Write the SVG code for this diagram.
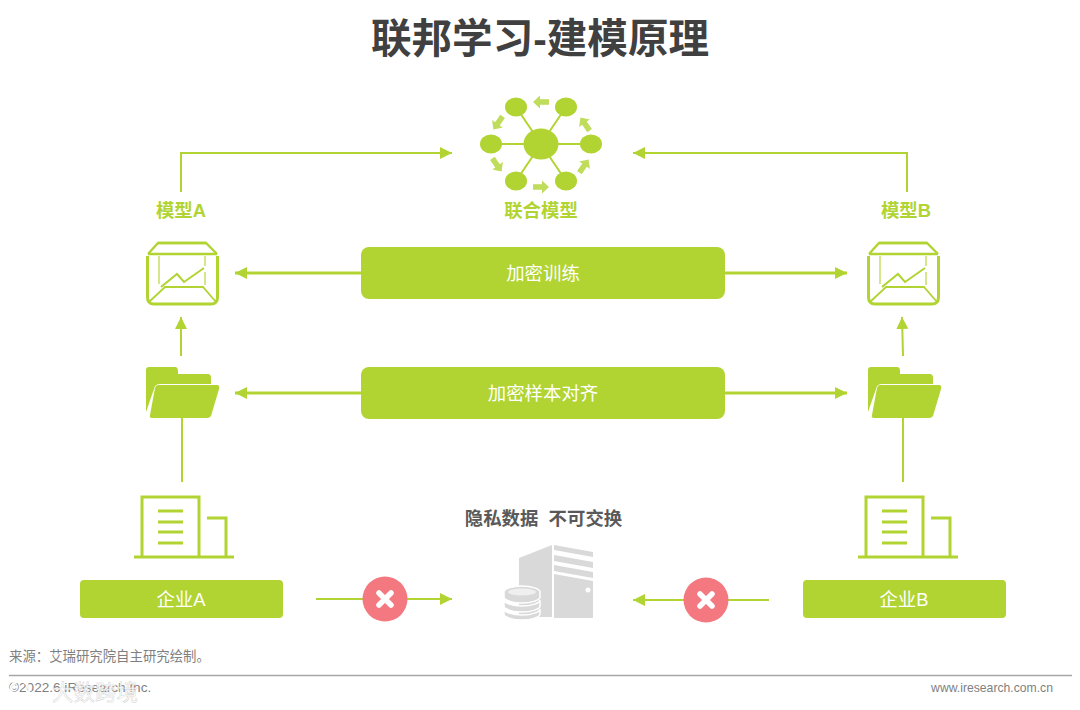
<svg xmlns="http://www.w3.org/2000/svg" width="1080" height="710" viewBox="0 0 1080 710">
<style>
.t{font-family:"Liberation Sans","Noto Sans CJK SC",sans-serif}
.g{fill:#b1d432}
.l{stroke:#b1d432;fill:none}
.w{fill:#fff;font-size:18.400px;text-anchor:middle}
.lab{fill:#b1d432;font-size:18.400px;font-weight:700;text-anchor:middle}
.b{fill:#b1d432}
</style>
<defs>
<marker id="a" markerUnits="userSpaceOnUse" markerWidth="13" markerHeight="13" refX="12" refY="6" orient="auto"><path d="M0 0L12 6L0 12Z" fill="#b1d432"/></marker>
<g id="box" fill="none" stroke="#b1d432">
<path d="M147.500 256V297Q147.500 304 154 304H211Q217.500 304 217.500 297V256" stroke-width="3"/>
<path d="M148 254L158 243H206L217 254" stroke-width="2.400"/>
<path d="M148 254H217" stroke-width="2.600"/>
<path d="M158 243H206" stroke-width="2.600"/>
<path d="M159 256V284M205 256V266M205 272V285" stroke-width="1.500" stroke-opacity=".75"/>
<path d="M149 302L165 287H203L216 302" stroke-width="1.800"/>
<path d="M161 287L177 274L184 282L204 268" stroke-width="2"/>
</g>
<g id="folder" class="g">
<path d="M149 367H175Q178 367 178 371V374H208Q211 374 211 378V384H160Q155 384 154 389L146 412V370Q146 367 149 367Z"/>
<path d="M158 385H217Q220 385 219 389L211 416Q210 418 207 418H152Q149 418 150 415L155 388Q156 385 158 385Z"/>
</g>
<g id="bld" fill="none" stroke="#b1d432">
<path d="M142 557V497H199V557" stroke-width="3"/>
<path d="M207 518H226V557" stroke-width="3"/>
<path d="M134 557H234" stroke-width="3"/>
<path d="M158 511H183M158 522H183M158 532H183M158 543H183" stroke-width="3"/>
</g>
<g id="x">
<path d="M-6 -6L6 6M6 -6L-6 6" stroke="#fff" stroke-width="5.500" stroke-linecap="round"/>
</g>
<path id="ar" d="M-8 -2.800H1V-6.500L8 0L1 6.500V2.800H-8Z" fill="#bfdc5a"/>
</defs>

<rect width="1080" height="710" fill="#fff"/>
<text class="t" x="540" y="53" font-size="40.600" font-weight="700" fill="#404040" text-anchor="middle">联邦学习-建模原理</text>

<g id="connectors">
<path class="l" stroke-width="2" marker-end="url(#a)" d="M181 192V153H452"/>
<path class="l" stroke-width="2" marker-end="url(#a)" d="M907 192V153H633"/>
<path class="l" stroke-width="3" marker-end="url(#a)" d="M361 273H235"/>
<path class="l" stroke-width="3" marker-end="url(#a)" d="M725 273H847"/>
<path class="l" stroke-width="3" marker-end="url(#a)" d="M361 393H235"/>
<path class="l" stroke-width="3" marker-end="url(#a)" d="M725 393H847"/>
<path class="l" stroke-width="2" marker-end="url(#a)" d="M181 356L181 317"/>
<path class="l" stroke-width="2" marker-end="url(#a)" d="M903 356L902 317"/>
<path class="l" stroke-width="2" d="M182 418V482M903 418V482"/>
<path class="l" stroke-width="2" marker-end="url(#a)" d="M316 599H452"/>
<path class="l" stroke-width="2" marker-end="url(#a)" d="M769 600H633"/>
</g>

<g id="federated-model">
<path class="l" stroke-width="2" d="M516 107L541 144L566 107M491 144H591M516 181L541 144L566 181"/>
<ellipse class="g" cx="541" cy="144" rx="17.500" ry="15.500"/>
<ellipse class="g" cx="516" cy="107" rx="11" ry="9.500"/>
<ellipse class="g" cx="566" cy="107" rx="11" ry="9.500"/>
<ellipse class="g" cx="591" cy="144" rx="11" ry="9.500"/>
<ellipse class="g" cx="566" cy="181" rx="11" ry="9.500"/>
<ellipse class="g" cx="516" cy="181" rx="11" ry="9.500"/>
<ellipse class="g" cx="491" cy="144" rx="11" ry="9.500"/>
<use href="#ar" transform="translate(541 102) rotate(180)"/>
<use href="#ar" transform="translate(585 124) rotate(-125)"/>
<use href="#ar" transform="translate(584 166) rotate(-55)"/>
<use href="#ar" transform="translate(541 187)"/>
<use href="#ar" transform="translate(497 165) rotate(55)"/>
<use href="#ar" transform="translate(498 123) rotate(125)"/>
<text class="t lab" x="541" y="216.500">联合模型</text>
</g>

<g id="model-a">
<text class="t lab" x="181" y="216.500">模型A</text>
<use href="#box"/>
</g>
<g id="model-b">
<text class="t lab" x="906" y="216.500">模型B</text>
<use href="#box" x="721"/>
</g>

<g id="encrypted-training">
<rect class="b" x="361" y="247" width="364" height="52" rx="8"/>
<text class="t w" x="543" y="279.500">加密训练</text>
</g>
<g id="sample-alignment">
<rect class="b" x="361" y="367" width="364" height="52" rx="8"/>
<text class="t w" x="543" y="399.500">加密样本对齐</text>
</g>

<g id="folder-a"><use href="#folder"/></g>
<g id="folder-b"><use href="#folder" x="722"/></g>

<g id="building-a"><use href="#bld"/></g>
<g id="building-b"><use href="#bld" x="724"/></g>

<g id="company-a">
<rect class="b" x="80" y="580" width="203" height="38" rx="4"/>
<text class="t w" x="181" y="605.500">企业A</text>
</g>
<g id="company-b">
<rect class="b" x="803" y="580" width="203" height="38" rx="4"/>
<text class="t w" x="904" y="605.500">企业B</text>
</g>

<g id="block-a">
<circle cx="385" cy="599" r="22.500" fill="#f4787f"/>
<use href="#x" x="385" y="599"/>
</g>
<g id="block-b">
<circle cx="706" cy="600" r="22.500" fill="#f4787f"/>
<use href="#x" x="706" y="600"/>
</g>

<g id="private-data">
<text class="t" x="543.500" y="524.500" font-size="18.400" font-weight="700" fill="#595959" text-anchor="middle" xml:space="preserve">隐私数据  不可交换</text>
<path fill="#d9d9d9" d="M519 558L552 545V617H519Z"/>
<path fill="#d9d9d9" d="M554 545L593 552V557L554 550ZM554 555L593 562V568L554 561ZM554 565L593 572V578L554 571ZM554 574L593 581V618H554Z"/>
<circle cx="588" cy="590" r="2.500" fill="#fff"/>
<path fill="#d9d9d9" stroke="#fff" stroke-width="1.500" d="M504 609V614C504 617 512 620 522 620S540 617 540 614V609C540 612 532 615 522 615S504 612 504 609Z"/>
<path fill="#d9d9d9" stroke="#fff" stroke-width="1.500" d="M504 600V606C504 609 512 612 522 612S540 609 540 606V600C540 603 532 606 522 606S504 603 504 600Z"/>
<path fill="#d9d9d9" stroke="#fff" stroke-width="1.500" d="M504 592C504 589 512 586 522 586S540 589 540 592V597C540 600 532 603 522 603S504 600 504 597Z"/>
<ellipse cx="522" cy="592" rx="14" ry="3.500" fill="#efefef"/>
</g>

<g id="footer">
<text class="t" x="9" y="661" font-size="13.400" fill="#7f7f7f">来源：艾瑞研究院自主研究绘制。</text>
<path d="M9 675.500H1072" stroke="#a6a6a6" stroke-width="1.500"/>
<text class="t" x="9" y="692" font-size="13.600" fill="#7f7f7f">©2022.6 iResearch Inc.</text>
<text class="t" x="1053" y="692" font-size="12.200" fill="#7f7f7f" text-anchor="end">www.iresearch.com.cn</text>
<text class="t" x="52" y="700" font-size="21.500" fill="#fff" fill-opacity=".85" stroke="#ccc" stroke-width=".4">大数跨境</text>
<circle cx="20" cy="690" r="9" fill="none" stroke="#fff" stroke-width="3" stroke-opacity=".85"/>
</g>
</svg>
